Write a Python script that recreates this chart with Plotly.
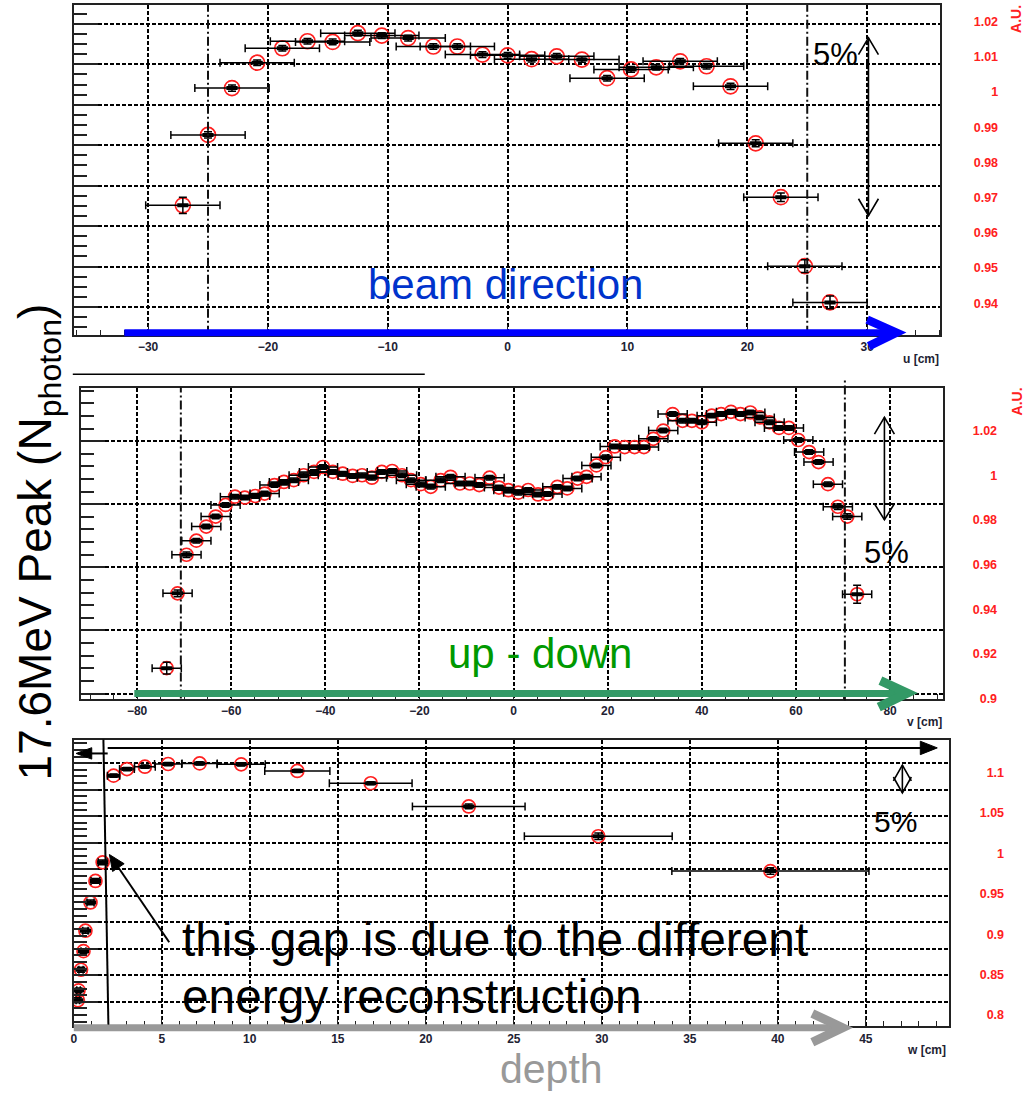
import plotly.graph_objects as go

W, H = 1027, 1095
FONT = "Liberation Sans, Arial, sans-serif"

# ---------------- data ----------------
# top panel: beam direction (u)
u_pos = [-27.1, -25.0, -23.0, -20.9, -18.8, -16.7, -14.6, -12.5, -10.5, -8.3, -6.2, -4.2, -2.1, 0.0,
         2.0, 4.1, 6.2, 8.3, 10.3, 12.4, 14.4, 16.6, 18.6, 20.7, 22.8, 24.8, 26.9]
u_val = [0.9678, 0.9878, 1.0011, 1.0083, 1.0124, 1.0144, 1.0142, 1.0167, 1.0160, 1.0153, 1.0129, 1.0129,
         1.0106, 1.0104, 1.0093, 1.0101, 1.0092, 1.0039, 1.0064, 1.0070, 1.0087, 1.0073, 1.0016, 0.9854,
         0.9701, 0.9505, 0.9402]
u_xerr = [3.1, 3.1, 3.1, 3.1, 3.1, 3.1, 3.1, 3.1, 3.1, 3.1, 3.1, 3.1, 3.1, 3.1,
          3.1, 3.1, 3.1, 3.1, 3.1, 3.1, 3.1, 3.1, 3.1, 3.1, 3.1, 3.1, 3.1]
u_yerr = [0.0023, 0.0009, 0.0009, 0.0008, 0.0008, 0.0008, 0.0008, 0.0008, 0.0008, 0.0008, 0.0008, 0.0008,
          0.0008, 0.0008, 0.0008, 0.0008, 0.0008, 0.0008, 0.0008, 0.0008, 0.0008, 0.0008, 0.0009, 0.0010,
          0.0012, 0.0018, 0.0018]

# middle panel: up - down (v)
v_pos = [-73.7, -71.4, -69.5, -67.4, -65.3, -63.3, -61.2, -59.2, -57.1, -54.9, -52.9, -50.8, -48.8, -46.7,
         -44.6, -42.4, -40.5, -38.4, -36.3, -34.2, -32.2, -30.1, -28.0, -25.8, -23.7, -21.8, -19.7, -17.6,
         -15.5, -13.4, -11.4, -9.3, -7.3, -5.1, -3.1, -1.1, 1.0, 3.1, 5.2, 7.2, 9.3, 11.4, 13.6, 15.5,
         17.6, 19.6, 21.5, 23.6, 25.7, 27.7, 29.7, 31.8, 33.8, 35.9, 37.9, 40.0, 42.1, 44.1, 46.2, 48.2,
         50.3, 52.3, 54.4, 56.4, 58.5, 60.5, 62.8, 64.8, 66.8, 68.9, 70.9, 73.0]
v_val = [0.9136, 0.9471, 0.9644, 0.9707, 0.9770, 0.9815, 0.9867, 0.9904, 0.9900, 0.9907, 0.9918, 0.9956,
         0.9970, 0.9978, 1.0000, 1.0015, 1.0037, 1.0015, 1.0007, 0.9997, 1.0000, 0.9989, 1.0015, 1.0019,
         1.0000, 0.9978, 0.9960, 0.9948, 0.9978, 0.9993, 0.9963, 0.9963, 0.9956, 0.9989, 0.9945, 0.9933,
         0.9922, 0.9934, 0.9914, 0.9916, 0.9948, 0.9941, 0.9985, 0.9993, 1.0044, 1.0081, 1.0129, 1.0126,
         1.0126, 1.0126, 1.0163, 1.0200, 1.0274, 1.0244, 1.0244, 1.0237, 1.0267, 1.0274, 1.0284, 1.0274,
         1.0281, 1.0259, 1.0237, 1.0212, 1.0212, 1.0158, 1.0104, 1.0059, 0.9960, 0.9859, 0.9815, 0.9467]
v_xerr = [3.1, 3.1, 3.1, 3.1, 3.1, 3.1, 3.1, 3.1, 3.1, 3.1, 3.1, 3.1, 3.1, 3.1, 3.1, 3.1, 3.1, 3.1,
          3.1, 3.1, 3.1, 3.1, 3.1, 3.1, 3.1, 3.1, 3.1, 3.1, 3.1, 3.1, 3.1, 3.1, 3.1, 3.1, 3.1, 3.1,
          3.1, 3.1, 3.1, 3.1, 3.1, 3.1, 3.1, 3.1, 3.1, 3.1, 3.1, 3.1, 3.1, 3.1, 3.1, 3.1, 3.1, 3.1,
          3.1, 3.1, 3.1, 3.1, 3.1, 3.1, 3.1, 3.1, 3.1, 3.1, 3.1, 3.1, 3.1, 3.1, 3.1, 3.1, 3.1, 3.1]
v_yerr = [0.0026, 0.0015, 0.0012, 0.0010, 0.0010, 0.0010, 0.0010, 0.0010, 0.0010, 0.0010, 0.0010, 0.0010,
          0.0010, 0.0010, 0.0010, 0.0010, 0.0010, 0.0010, 0.0010, 0.0010, 0.0010, 0.0010, 0.0010, 0.0010,
          0.0010, 0.0010, 0.0010, 0.0010, 0.0010, 0.0010, 0.0010, 0.0010, 0.0010, 0.0010, 0.0010, 0.0010,
          0.0010, 0.0010, 0.0010, 0.0010, 0.0010, 0.0010, 0.0010, 0.0010, 0.0010, 0.0010, 0.0010, 0.0010,
          0.0010, 0.0010, 0.0010, 0.0010, 0.0010, 0.0010, 0.0010, 0.0010, 0.0010, 0.0010, 0.0010, 0.0010,
          0.0010, 0.0010, 0.0010, 0.0010, 0.0010, 0.0010, 0.0010, 0.0010, 0.0010, 0.0012, 0.0012, 0.0040]

# bottom panel: depth (w)
w_pos = [0.23, 0.27, 0.41, 0.55, 0.66, 0.95, 1.23, 1.64, 2.26, 3.02, 4.04, 5.36, 7.15, 9.51, 12.70,
         16.87, 22.44, 29.80, 39.58]
w_val = [0.8183, 0.8306, 0.8561, 0.8791, 0.9044, 0.9394, 0.9660, 0.9890, 1.0963, 1.1045, 1.1074, 1.1107,
         1.1115, 1.1103, 1.1021, 1.0869, 1.0582, 1.0213, 0.9782]
w_xerr = [0.10, 0.10, 0.12, 0.14, 0.15, 0.20, 0.25, 0.25, 0.35, 0.42, 0.59, 0.77, 1.00, 1.37, 1.85,
          2.35, 3.20, 4.20, 5.60]
w_yerr = [0.003, 0.003, 0.003, 0.003, 0.003, 0.003, 0.003, 0.003, 0.002, 0.002, 0.002, 0.002, 0.002,
          0.002, 0.002, 0.002, 0.003, 0.004, 0.004]

# tick settings (labels are produced by the axes)
u_ticks = dict(dtick=10, minor=2)
v_ticks = dict(dtick=20, minor=5)
w_ticks = dict(dtick=5, minor=1)

# ---------------- helpers ----------------
def PX(x):
    return x / W


def PY(y):
    return 1 - y / H


fig = go.Figure()

RED = "#ff2020"
LBL = "#222233"
GRID = "#000000"
GDASH = "4px,2px"

# empty traces so that the grid (base) axes of each panel are registered
for xa, ya in [("x", "y"), ("x2", "y4"), ("x3", "y7")]:
    fig.add_trace(go.Scatter(x=[], y=[], xaxis=xa, yaxis=ya, mode="markers", showlegend=False,
                             hoverinfo="skip"))


def add_series(xs, ys, xe, ye, xa, ya, csize):
    fig.add_trace(go.Scatter(
        x=xs, y=ys, xaxis=xa, yaxis=ya, mode="markers", showlegend=False, hoverinfo="skip",
        marker=dict(symbol="circle-open", size=csize, color=RED, line=dict(width=1.7, color=RED))))
    fig.add_trace(go.Scatter(
        x=xs, y=ys, xaxis=xa, yaxis=ya, mode="markers", showlegend=False, hoverinfo="skip",
        marker=dict(symbol="line-ew", size=8, color="black", line=dict(width=4, color="black")),
        error_x=dict(type="data", array=xe, color="black", thickness=1.5, width=4),
        error_y=dict(type="data", array=ye, color="black", thickness=1.5, width=4)))


add_series(u_pos, u_val, u_xerr, u_yerr, "x", "y2", 15)
add_series(v_pos, v_val, v_xerr, v_yerr, "x2", "y5", 13)
add_series(w_pos, w_val, w_xerr, w_yerr, "x3", "y8", 13)

# ---------------- axes ----------------
panels = [
    dict(xd=(71, 940), yd=(5, 337), xr=[-36.2, 36.1], xt=u_ticks,
         gr=[-0.69, 7.47], gm=0.25, rr=[0.931, 1.0247], rd=0.01, rm=0.002, edge=995),
    dict(xd=(78.3, 943), yd=(390, 703), xr=[-91.9, 91.3], xt=v_ticks,
         gr=[-0.079, 4.85], gm=0.2, rr=[0.9, 1.0393], rd=0.02, rm=0.005, edge=994),
    dict(xd=(71, 948.3), yd=(744.3, 1033), xr=[0, 49.7], xt=w_ticks,
         gr=[0.075, 10.89], gm=0.25, rr=[0.786, 1.141], rd=0.05, rm=0.01, edge=1001),
]

layout_axes = {}
for i, p in enumerate(panels):
    xname = "xaxis" if i == 0 else f"xaxis{i + 1}"
    xref = "x" if i == 0 else f"x{i + 1}"
    yg = 3 * i + 1
    ygname = "yaxis" if yg == 1 else f"yaxis{yg}"
    ygref = "y" if yg == 1 else f"y{yg}"
    xdom = [PX(p["xd"][0]), PX(p["xd"][1])]
    ydom = [PY(p["yd"][1]), PY(p["yd"][0])]
    layout_axes[xname] = dict(
        domain=xdom, range=p["xr"], anchor=ygref, dtick=p["xt"]["dtick"], tick0=0,
        showgrid=True, gridcolor=GRID, griddash=GDASH, gridwidth=1.5,
        zeroline=False, showline=True, linecolor="#222", linewidth=1.8, mirror=True,
        ticks="inside", ticklen=10, tickcolor="#222", tickwidth=1,
        minor=dict(ticks="inside", ticklen=5, dtick=p["xt"]["minor"], tickcolor="#222", showgrid=False),
        tickfont=dict(family=FONT, size=12, color=LBL, weight="bold"),
    )
    layout_axes[ygname] = dict(
        domain=ydom, range=p["gr"], anchor=xref, dtick=1, tick0=0,
        showgrid=True, gridcolor=GRID, griddash=GDASH, gridwidth=1.5,
        zeroline=False, showline=True, linecolor="#222", linewidth=1.8, mirror=True,
        ticks="inside", ticklen=24, tickcolor="#222", tickwidth=1.5, showticklabels=False,
        minor=dict(ticks="inside", ticklen=13, dtick=p["gm"], tickcolor="#222", tickwidth=1.5, showgrid=False),
    )
    layout_axes[f"yaxis{yg + 1}"] = dict(
        overlaying=ygref, anchor="free", position=PX(p["edge"] + 3), side="left",
        range=p["rr"], dtick=p["rd"], tick0=0, ticks="", showgrid=False, zeroline=False,
        showline=False, tickfont=dict(family=FONT, size=12.5, color=RED, weight="bold"),
    )
    layout_axes[f"yaxis{yg + 2}"] = dict(
        overlaying=ygref, anchor=xref, side="right",
        range=p["rr"], dtick=p["rd"], tick0=0, ticks="inside", ticklen=26, tickcolor="#222",
        tickwidth=1.5, showticklabels=False, showgrid=False, zeroline=False, showline=False,
        minor=dict(ticks="inside", ticklen=13, dtick=p["rm"], tickcolor="#222", tickwidth=1.5, showgrid=False),
    )

# ---------------- shapes ----------------
shapes = []


def line(x0, y0, x1, y1, color="black", width=1.6, dash=None):
    d = dict(type="line", xref="paper", yref="paper", x0=PX(x0), y0=PY(y0), x1=PX(x1), y1=PY(y1),
             line=dict(color=color, width=width), layer="above")
    if dash:
        d["line"]["dash"] = dash
    shapes.append(d)


def path(pts, color="black", width=1.6, fill=False):
    s = "M" + " L".join(f"{PX(x):.5f},{PY(y):.5f}" for x, y in pts)
    if fill:
        s += " Z"
    shapes.append(dict(type="path", xref="paper", yref="paper", path=s, layer="above",
                       line=dict(color=color, width=width),
                       fillcolor=color if fill else "rgba(0,0,0,0)"))


def vline(xval, xref, ytop, ybot):
    shapes.append(dict(type="line", xref=xref, yref="paper", x0=xval, x1=xval, y0=PY(ybot), y1=PY(ytop),
                       line=dict(color="#111", width=2, dash="9px,3px,2px,3px"), layer="above"))


# dash-dot boundaries
vline(-25, "x", 5, 337)
vline(25, "x", 5, 337)
vline(-70.7, "x2", 390, 703)
vline(70.4, "x2", 383, 705)

# separator line between top and middle panels
line(70, 376.7, 423, 376.7, width=1.5)

# blue beam-direction arrow
line(121.7, 335, 888, 335, color="#0000ff", width=7)
path([(866.7, 321.7), (896, 334.8), (868.3, 348.3)], color="#0000ff", width=8.5)
# green up-down arrow
line(131.7, 698, 900, 698, color="#339966", width=7)
path([(880, 685), (907, 697.5), (878.3, 711.7)], color="#339966", width=9)
# grey depth arrow
line(71, 1034.3, 838, 1034.3, color="#999999", width=7)
path([(811.7, 1020), (842, 1034.3), (811.7, 1049)], color="#999999", width=9)

# 5% double arrows
line(868, 38, 868, 217, width=1.6)
path([(858, 55), (868, 38), (878, 55)], width=1.6)
path([(858, 200), (868, 217), (878, 200)], width=1.6)
line(884, 420, 884, 523, width=1.6)
path([(874, 437), (884, 420), (894, 437)], width=1.6)
path([(874, 507), (884, 523), (894, 507)], width=1.6)
line(902, 770, 902, 798, width=1.6)
path([(893, 786), (902, 770), (911, 786)], width=1.6)
path([(893, 782), (902, 798), (911, 782)], width=1.6)

# bottom panel: range arrows, gap line, pointer
line(105, 752.7, 922, 752.7, width=2)
path([(920, 746), (937, 752.7), (920, 759.5)], fill=True, width=1)
line(88, 758.3, 105, 758.3, width=2)
path([(89, 752.5), (73.3, 758.3), (89, 764)], fill=True, width=1)
line(100.7, 744.3, 105.7, 1031, width=2)
line(166.7, 948.3, 113, 869, width=2)
path([(106.7, 860), (121.5, 869.3), (109.9, 877.1)], fill=True, width=1)

# ---------------- text ----------------
annotations = []


def text(t, x, y, size, color="black", xanchor="center", yanchor="middle", angle=0, bold=False):
    f = dict(family=FONT, size=size, color=color)
    if bold:
        f["weight"] = "bold"
    annotations.append(dict(text=t, x=PX(x), y=PY(y), xref="paper", yref="paper", showarrow=False,
                            xanchor=xanchor, yanchor=yanchor, textangle=angle, font=f))


text("beam direction", 504, 286, 42, color="#0033cc")
text("up - down", 538.5, 658, 42, color="#009900")
text("5%", 835, 55, 31)
text("5%", 886, 556, 31)
text("5%", 895, 826.7, 30)
text("this gap is due to the different", 178, 946, 47.8, xanchor="left")
text("energy reconstruction", 178, 1003, 47.8, xanchor="left")
text("depth", 550.5, 1076, 41, color="#999999")
text("17.6MeV Peak (N<sub>photon</sub>)", 36, 545, 46, angle=-90)
text("A.U.", 1016, 19, 14, color=RED, angle=-90, bold=True)
text("A.U.", 1017, 404, 14, color=RED, angle=-90, bold=True)
text("u [cm]", 941, 361, 12, color=LBL, xanchor="right", bold=True)
text("v [cm]", 944, 726.7, 12, color=LBL, xanchor="right", bold=True)
text("w [cm]", 948, 1057, 12, color=LBL, xanchor="right", bold=True)

fig.update_layout(
    width=W, height=H, autosize=False, margin=dict(l=0, r=0, t=0, b=0),
    paper_bgcolor="white", plot_bgcolor="white", showlegend=False,
    font=dict(family=FONT), shapes=shapes, annotations=annotations, **layout_axes,
)

fig.write_html("out.html")
